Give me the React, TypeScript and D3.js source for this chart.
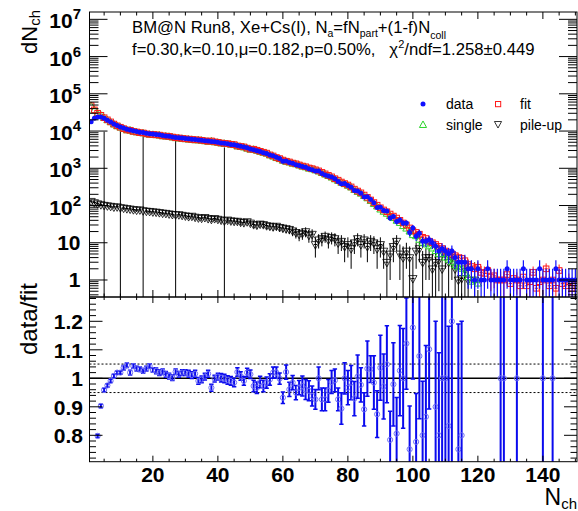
import React from 'react';
import * as d3 from 'd3';

// ---- data (bin N_ch = 1..150) ----
const firstBin = 1;
const dataCounts = [
  17800, 21900, 23900, 23900, 21900, 19500, 17400, 15500, 14100, 12900,
  12000, 11200, 10700, 10200, 9770, 9330, 9120, 8710, 8510, 8320,
  8130, 7940, 7590, 7410, 7240, 6920, 6760, 6610, 6460, 6310,
  6170, 6030, 5890, 5750, 5620, 5500, 5370, 5250, 5130, 5010,
  4790, 4680, 4570, 4370, 4270, 4070, 3890, 3720, 3550, 3310,
  3160, 2950, 2820, 2630, 2510, 2280, 2180, 1990, 1820, 1550,
  1580, 1420, 1360, 1250, 1190, 1120, 1060, 975, 916, 845,
  851, 719, 656, 618, 581, 521, 444, 382, 389, 343,
  311, 255, 246, 214, 170, 172, 146, 118, 89, 90,
  74, 71, 46, 51, 37, 41, 34, 34, 19, 25,
  15, 18, 11, 11, 12, 10, 8, 6, 7, 6,
  5, 6, 4, 3, 3, 3, 2, 2, 1, 2,
  1, 1, 2, 1, 1, 1, 1, 1, 2, 1,
  1, 1, 1, 2, 1, 1, 1, 1, 2, 1,
  1, 1, 1, 2, 1, 1, 1, 1, 1, 1,
];
const fitVals = [
  48000, 37000, 30000, 26500, 22800, 20000, 17600, 15400, 13800, 12650,
  11600, 10700, 10500, 9780, 9450, 9040, 8890, 8420, 8160, 8090,
  7920, 7780, 7420, 7310, 7180, 6910, 6610, 6520, 6330, 6190,
  6070, 5960, 5800, 5800, 5640, 5470, 5290, 5430, 5130, 4980,
  4780, 4680, 4600, 4410, 4330, 3980, 3860, 3750, 3480, 3260,
  3250, 3050, 2860, 2700, 2550, 2290, 2140, 1950, 1820, 1660,
  1550, 1480, 1380, 1320, 1230, 1150, 1100, 1020, 977, 912,
  851, 776, 708, 646, 589, 525, 479, 427, 389, 355,
  316, 275, 245, 219, 191, 166, 141, 120, 102, 87,
  76, 68, 59, 52, 46, 40, 34, 30, 25, 21,
  19, 17, 14, 13, 11, 10, 9, 8, 7, 6,
  5.6, 5, 4.5, 4, 3.8, 3.3, 2.6, 2.3, 2.0, 2.2,
  1.6, 1.5, 1.8, 1.2, 1.3, 1.0, 1.0, 1.0, 1.4, 0.8,
  1.1, 1.0, 0.7, 1.2, 0.7, 0.9, 1.6, 0.6, 0.9, 1.0,
  2.0, 0.7, 1.0, 0.6, 1.8, 0.8, 0.7, 0.9, 0.6, 0.7,
];
const fitErrFirstBin = 81;
const fitErrTail = [
  5, 5, 4, 4, 4, 3.5, 3.5, 3, 3, 3,
  3, 3, 3, 2.5, 2.5, 2.5, 2.5, 2.2, 2.2, 2,
  2, 2, 1.8, 1.8, 1.6, 1.6, 1.5, 1.5, 1.4, 1.4,
  1.3, 1.3, 1.2, 1.2, 1.1, 1.1, 1.0, 1.0, 0.9, 0.9,
  0.8, 0.8, 0.8, 0.7, 0.7, 0.7, 0.7, 0.7, 0.7, 0.6,
  0.6, 0.6, 0.5, 0.6, 0.5, 0.6, 0.7, 0.5, 0.6, 0.6,
  0.8, 0.5, 0.6, 0.5, 0.8, 0.5, 0.5, 0.6, 0.5, 0.5,
];
const singleVals = [
  47000, 36500, 29500, 26000, 22400, 19600, 17300, 15100, 13500, 12400,
  11400, 10500, 10300, 9600, 9250, 8850, 8700, 8250, 8000, 7900,
  7750, 7600, 7250, 7150, 7000, 6750, 6450, 6350, 6180, 6040,
  5920, 5810, 5660, 5650, 5500, 5330, 5150, 5290, 4990, 4840,
  4650, 4550, 4470, 4290, 4200, 3870, 3740, 3640, 3370, 3160,
  3150, 2960, 2770, 2610, 2470, 2220, 2070, 1880, 1760, 1600,
  1490, 1430, 1330, 1280, 1190, 1110, 1060, 980, 940, 880,
  820, 745, 680, 620, 565, 505, 460, 410, 375, 340,
  305, 262, 232, 208, 180, 156, 133, 110, 94, 78,
  68, 60, 52, 46, 39, 34, 28, 24, 20, 16,
  15, 12, 10, 9, 8, 7, 6, 5, 5, 4,
  3.5, 3, 2.5, 2.2, 2, 1.5, 1.2, 0.9, 1.0, 0.8,
];
const pileupVals = [
  130, 120, 112, 106, 102, 99, 96, 92, 93, 88,
  86, 83, 81, 78, 76, 77, 73, 71, 70, 68,
  67, 65, 63, 62, 60, 58, 57, 57, 55, 53,
  51, 52, 49, 47, 46, 48, 45, 43, 45, 43,
  41, 39, 41, 39, 38, 38, 36, 35, 37, 34,
  31, 30, 32, 31, 29, 28, 27, 28, 26, 25,
  24, 23, 21, 19, 17, 18, 20, 16, 17, 9,
  12, 13, 15, 12, 14, 13, 10, 11, 8, 9,
  7, 10, 13, 9, 12, 8, 11, 10, 7, 9,
  6, 3, 5, 8, 11, 5, 4, 6, 4, 1.1,
  6, 7, 3, 4, 4, 2, 3, 3.5, 2, 5,
  3, 4, 2, 1, 1.1, 2, 1, 0, 1, 0,
];
const pileupErr = [
  14, 13, 12, 12, 9500, 11, 11, 11, 11, 13000,
  10, 10, 10, 10, 9, 9, 7000, 9, 9, 9,
  9, 9, 8, 8, 8, 8, 5700, 8, 8, 8,
  8, 8, 8, 7, 7, 7, 7, 7, 7, 7,
  7, 3600, 7, 7, 7, 7, 7, 6, 6, 6,
  6, 6, 6, 6, 6, 6, 6, 6, 6, 6,
  6, 6, 6, 6, 6, 6, 6, 6, 6, 5,
  5, 5, 5, 5, 5, 5, 5, 5, 5, 5,
  5, 5, 5, 5, 5, 5, 5, 5, 5, 5,
  4, 3, 4, 5, 5, 4, 4, 4, 4, 3,
  4, 4, 3, 3, 3, 3, 3, 3, 3, 3,
  3, 3, 2, 2, 2, 2, 2, 0, 2, 0,
];
const ratioFirstBin = 3;
const ratioVals: (number | null)[] = [
  0.798, 0.903, 0.959, 0.975, 0.991, 1.008, 1.020, 1.020,
  1.037, 1.046, 1.020, 1.043, 1.034, 1.032, 1.026, 1.034, 1.043, 1.029,
  1.026, 1.020, 1.023, 1.014, 1.008, 1.002, 1.023, 1.014, 1.020, 1.020,
  1.016, 1.011, 1.016, 0.991, 0.996, 1.006, 1.016, 0.967, 0.999, 1.006,
  1.002, 0.999, 0.994, 0.991, 0.985, 1.022, 1.008, 0.991, 1.020, 1.014,
  0.973, 0.967, 0.987, 0.973, 0.985, 0.996, 1.020, 1.020, 0.999, 0.932,
  1.022, 0.961, 0.985, 0.950, 0.967, 0.973, 0.961, 0.956, 0.938, 0.926,
  1.000, 0.926, 0.926, 0.956, 0.987, 0.993, 0.926, 0.894, 1.000, 0.967,
  0.985, 0.929, 1.006, 0.977, 0.891, 1.034, 1.032, 0.985, 0.874, 1.037,
  0.971, 1.049, 0.784, 0.979, 0.806, 1.027, 1.000, 1.122, 0.751, 1.178,
  0.777, 1.078, 0.800, 0.865, 1.102, null, 0.900, 0.800, 1.000, 1.000,
  0.833, 1.200, null, 0.751, 0.800, null, null, null, null, null,
  null, null, null, null, null, null, 1.000, 1.000, null, null,
  null, 1.000, null, null, null, null, null, null, null, 1.000,
  null, null, 1.000, null, null, null, null, null,
];
const ratioErr = [
  0.006, 0.006, 0.006, 0.006, 0.006, 0.006, 0.006, 0.006,
  0.008, 0.008, 0.008, 0.008, 0.008, 0.008, 0.008, 0.008, 0.008, 0.008,
  0.010, 0.010, 0.010, 0.010, 0.010, 0.010, 0.010, 0.010, 0.010, 0.010,
  0.012, 0.012, 0.012, 0.012, 0.012, 0.012, 0.012, 0.012, 0.012, 0.012,
  0.015, 0.015, 0.015, 0.015, 0.015, 0.015, 0.015, 0.015, 0.015, 0.015,
  0.020, 0.020, 0.020, 0.020, 0.020, 0.020, 0.020, 0.020, 0.020, 0.020,
  0.025, 0.025, 0.025, 0.025, 0.025, 0.035, 0.035, 0.035, 0.035, 0.035,
  0.040, 0.040, 0.040, 0.040, 0.040, 0.040, 0.040, 0.055, 0.055, 0.060,
  0.060, 0.060, 0.076, 0.060, 0.058, 0.097, 0.047, 0.094, 0.082, 0.114,
  0.114, 0.135, 0.100, 0.146, 0.127, 0.158, 0.175, 0.160, 0.152, 0.180,
  0.170, 0.220, 0.190, 0.250, 0.210, 0, 0.300, 0.290, 0.600, 0.600,
  0.350, 0.600, 0, 0.440, 0.400, 0, 0, 0, 0, 0,
  0, 0, 0, 0, 0, 0, 1.5, 1.5, 0, 0,
  0, 1.5, 0, 0, 0, 0, 0, 0, 0, 1.5,
  0, 0, 1.5, 0, 0, 0, 0, 0,
];
const pileupBigErrBins = [5, 10, 17, 27, 42];
const xMajorTicks = [20, 40, 60, 80, 100, 120, 140];
const ratioMajorTicks = [0.8, 0.9, 1.0, 1.1, 1.2];
const ratioTickLabels = ['0.8', '0.9', '1', '1.1', '1.2'];
const decadeExps = [0, 1, 2, 3, 4, 5, 6, 7];

// ---- layout ----
const W = 578, H = 511;
const X0 = 89.5, X1 = 577;
const T0 = 12, T1 = 297, R1 = 461.7;
const FONT = '"Liberation Sans", Arial, Helvetica, sans-serif';

const x = d3.scaleLinear().domain([0.5, 150.5]).range([X0, X1]);
const yT = d3.scaleLog().domain([0.3495, 1.574e7]).range([T1, T0]);
const yR = d3.scaleLinear().domain([0.7074, 1.2853]).range([R1, T1]);

const BLUE = '#1010ff';
const RED = '#ff1a1a';
const GREEN = '#2bd42b';

function logY(v: number) {
  return v > 0 ? yT(v) : T1 + 5;
}

function triUp(cx: number, cy: number, s: number) {
  return `M${cx},${cy - s * 0.62}L${cx + s * 0.55},${cy + s * 0.38}L${cx - s * 0.55},${cy + s * 0.38}Z`;
}
function triDown(cx: number, cy: number, s: number) {
  return `M${cx},${cy + s * 0.62}L${cx + s * 0.55},${cy - s * 0.38}L${cx - s * 0.55},${cy - s * 0.38}Z`;
}

export default function App() {
  const halfBin = (x(1.5) - x(0.5)) / 2;

  // log minor ticks
  const logTicks: { v: number; major: boolean }[] = [];
  for (let k = -1; k <= 7; k++) {
    for (let m = 1; m <= 9; m++) {
      const v = m * Math.pow(10, k);
      if (v >= 0.3495 && v <= 1.574e7) logTicks.push({ v, major: m === 1 });
    }
  }
  const xMinor = d3.range(5, 151, 5);
  const rMinor = d3.range(0.72, 1.281, 0.02);

  const topTicks = (
    <g stroke="#000" strokeWidth={1}>
      {logTicks.map((t, i) => {
        const yy = yT(t.v);
        const L = t.major ? 18 : 9;
        return (
          <g key={'lt' + i}>
            <line x1={X0} x2={X0 + L} y1={yy} y2={yy} />
            <line x1={X1} x2={X1 - L} y1={yy} y2={yy} />
          </g>
        );
      })}
      {xMinor.map((v) => {
        const xx = x(v);
        const L = v % 20 === 0 ? 7 : 3.5;
        return (
          <g key={'xt' + v}>
            <line x1={xx} x2={xx} y1={T1} y2={T1 - L} />
            <line x1={xx} x2={xx} y1={T0} y2={T0 + L} />
            <line x1={xx} x2={xx} y1={R1} y2={R1 - (v % 20 === 0 ? 6 : 3)} />
            <line x1={xx} x2={xx} y1={T1} y2={T1 + (v % 20 === 0 ? 6 : 3)} />
          </g>
        );
      })}
      {rMinor.map((v, i) => {
        const yy = yR(v);
        const major = Math.abs(Math.round(v * 10) / 10 - v) < 0.001;
        const L = major ? 13 : 6.5;
        return (
          <g key={'rt' + i}>
            <line x1={X0} x2={X0 + L} y1={yy} y2={yy} />
            <line x1={X1} x2={X1 - L} y1={yy} y2={yy} />
          </g>
        );
      })}
    </g>
  );

  return (
    <svg width={W} height={H} style={{ position: 'absolute', left: 0, top: 0, background: '#fff' }} fontFamily={FONT}>
      <defs>
        <clipPath id="clipTop"><rect x={X0} y={T0} width={X1 - X0} height={T1 - T0} /></clipPath>
        <clipPath id="clipRat"><rect x={X0} y={T1} width={X1 - X0} height={R1 - T1} /></clipPath>
      </defs>
      <rect x={0} y={0} width={W} height={H} fill="#fff" />

      {/* ---- top panel marks ---- */}
      <g clipPath="url(#clipTop)">
        {pileupBigErrBins.map((b) => {
          const i = b - firstBin;
          return (
            <line key={'pb' + b} x1={x(b)} x2={x(b)} y1={logY(pileupVals[i] + pileupErr[i])} y2={T1 + 5} stroke="#000" strokeWidth={1} />
          );
        })}
        {pileupVals.map((v, i) => {
          if (!(v > 0)) return null;
          const b = firstBin + i;
          if (pileupBigErrBins.includes(b)) {
            return <path key={'pu' + b} d={triDown(x(b), yT(v), 7.5)} fill="none" stroke="#000" strokeWidth={0.8} />;
          }
          const e = pileupErr[i];
          return (
            <g key={'pu' + b} stroke="#000" strokeWidth={1}>
              <line x1={x(b)} x2={x(b)} y1={logY(v + e)} y2={logY(v - e)} />
              <line x1={x(b) - halfBin} x2={x(b) + halfBin} y1={yT(v)} y2={yT(v)} />
              <path d={triDown(x(b), yT(v), 7.5)} fill="none" stroke="#000" strokeWidth={0.8} />
            </g>
          );
        })}
        {singleVals.map((v, i) => {
          if (!(v > 0)) return null;
          const b = firstBin + i;
          return <path key={'sg' + b} d={triUp(x(b), yT(v), 6.5)} fill="none" stroke={GREEN} strokeWidth={1} />;
        })}
        {fitVals.map((v, i) => {
          const b = firstBin + i;
          const ei = b - fitErrFirstBin;
          const e = ei >= 0 ? fitErrTail[ei] : 0;
          return (
            <g key={'ft' + b} stroke={RED} strokeWidth={1} fill="none">
              {e > 0 && <line x1={x(b)} x2={x(b)} y1={logY(v + e)} y2={logY(v - e)} />}
              {e > 0 && <line x1={x(b) - halfBin} x2={x(b) + halfBin} y1={yT(v)} y2={yT(v)} />}
              <rect x={x(b) - 2.8} y={yT(v) - 2.8} width={5.6} height={5.6} />
            </g>
          );
        })}
        {dataCounts.map((v, i) => {
          if (!(v > 0)) return null;
          const b = firstBin + i;
          const e = Math.sqrt(v);
          return (
            <g key={'dt' + b}>
              <line x1={x(b)} x2={x(b)} y1={logY(v + e)} y2={logY(v - e)} stroke={BLUE} strokeWidth={1.2} />
              <line x1={x(b) - halfBin} x2={x(b) + halfBin} y1={yT(v)} y2={yT(v)} stroke={BLUE} strokeWidth={1.2} />
              <circle cx={x(b)} cy={yT(v)} r={2.5} fill={BLUE} />
            </g>
          );
        })}
      </g>

      {/* ---- ratio panel ---- */}
      <g>
        <line x1={X0} x2={X1} y1={yR(1)} y2={yR(1)} stroke="#000" strokeWidth={1.5} />
        <line x1={X0} x2={X1} y1={yR(1.05)} y2={yR(1.05)} stroke="#000" strokeWidth={1} strokeDasharray="2,2" />
        <line x1={X0} x2={X1} y1={yR(0.95)} y2={yR(0.95)} stroke="#000" strokeWidth={1} strokeDasharray="2,2" />
      </g>
      <g clipPath="url(#clipRat)">
        {ratioVals.map((v, i) => {
          if (v === null) return null;
          const b = ratioFirstBin + i;
          const e = ratioErr[i];
          const cx = x(b);
          const yTop = yR(v + e), yBot = yR(v - e);
          return (
            <g key={'rt' + b}>
              <line x1={cx} x2={cx} y1={yTop} y2={yBot} stroke="#0a0aee" strokeWidth={2} />
              <line x1={cx - 2.2} x2={cx + 2.2} y1={yTop} y2={yTop} stroke="#0a0aee" strokeWidth={1.5} />
              <line x1={cx - 2.2} x2={cx + 2.2} y1={yBot} y2={yBot} stroke="#0a0aee" strokeWidth={1.5} />
              <circle cx={cx} cy={yR(v)} r={2.6} fill="none" stroke="#6f6ff5" strokeWidth={1} />
            </g>
          );
        })}
      </g>

      {/* frames & ticks */}
      <rect x={X0} y={T0} width={X1 - X0} height={T1 - T0} fill="none" stroke="#000" strokeWidth={1} />
      <rect x={X0} y={T1} width={X1 - X0} height={R1 - T1} fill="none" stroke="#000" strokeWidth={1} />
      {topTicks}

      {decadeExps.map((k) => {
        const yy = yT(Math.pow(10, k));
        if (k === 0) return <text key={'dl' + k} x={80.5} y={yy + 7.5} textAnchor="end" fontSize={21} fontWeight="bold">1</text>;
        if (k === 1) return <text key={'dl' + k} x={80.5} y={yy + 7.5} textAnchor="end" fontSize={21} fontWeight="bold">10</text>;
        return (
          <text key={'dl' + k} x={81} y={yy + 9} textAnchor="end" fontSize={21} fontWeight="bold">
            10<tspan dy={-9} fontSize={15}>{k}</tspan>
          </text>
        );
      })}
      {ratioMajorTicks.map((v, i) => (
        <text key={'rl' + i} x={83} y={yR(v) + 8} textAnchor="end" fontSize={21} fontWeight="bold">{ratioTickLabels[i]}</text>
      ))}
      {xMajorTicks.map((v) => (
        <text key={'xl' + v} x={x(v)} y={482} textAnchor="middle" fontSize={21} fontWeight="bold">{v}</text>
      ))}

      {/* axis titles */}
      <text transform="translate(37,10) rotate(-90)" textAnchor="end" fontSize={22}>
        dN<tspan dy={3} fontSize={15}>ch</tspan>
      </text>
      <text transform="translate(37,283) rotate(-90)" textAnchor="end" fontSize={24}>data/fit</text>
      <text x={577} y={505} textAnchor="end" fontSize={23}>
        N<tspan dy={4} fontSize={15}>ch</tspan>
      </text>

      {/* header */}
      <text x={132} y={33} fontSize={16.7}>
        BM@N Run8, Xe+Cs(I), N<tspan dy={4} fontSize={10.5}>a</tspan>
        <tspan dy={-4}>=fN</tspan>
        <tspan dy={4} fontSize={10.5}>part</tspan>
        <tspan dy={-4}>+(1-f)N</tspan>
        <tspan dy={6} fontSize={10.5}>coll</tspan>
      </text>
      <text x={132} y={55} fontSize={16.7}>
        f=0.30,k=0.10,μ=0.182,p=0.50%,{'\u00a0\u00a0\u00a0'}χ<tspan dy={-7} fontSize={11}>2</tspan>
        <tspan dy={7}>/ndf=1.258±0.449</tspan>
      </text>

      {/* legend */}
      <circle cx={423} cy={104} r={2.5} fill={BLUE} />
      <text x={446} y={108.5} fontSize={14}>data</text>
      <rect x={495.5} y={101.5} width={5.2} height={5.2} fill="none" stroke={RED} strokeWidth={1} />
      <text x={520} y={108.5} fontSize={14}>fit</text>
      <path d={triUp(423, 125, 6.5)} fill="none" stroke={GREEN} strokeWidth={1} />
      <text x={446} y={129.5} fontSize={14}>single</text>
      <path d={triDown(498, 124, 6.5)} fill="none" stroke="#000" strokeWidth={0.8} />
      <text x={520} y={129.5} fontSize={14}>pile-up</text>
    </svg>
  );
}
